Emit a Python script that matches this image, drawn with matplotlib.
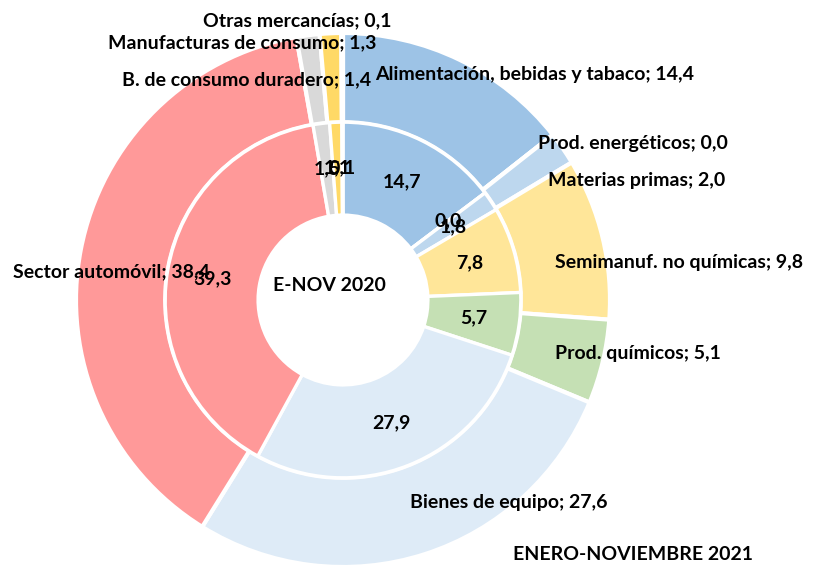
import matplotlib
matplotlib.use("Agg")
import matplotlib.pyplot as plt
import numpy as np

plt.rcParams['font.family'] = ['Lato', 'DejaVu Sans']

categorias = ["Alimentación, bebidas y tabaco", "Prod. energéticos", "Materias primas",
              "Semimanuf. no químicas", "Prod. químicos", "Bienes de equipo",
              "Sector automóvil", "B. de consumo duradero", "Manufacturas de consumo",
              "Otras mercancías"]
valores_2021 = [14.4, 0.0, 2.0, 9.8, 5.1, 27.6, 38.4, 1.4, 1.3, 0.1]
valores_2020 = [14.7, 0.0, 1.8, 7.8, 5.7, 27.9, 39.3, 1.5, 1.1, 0.1]
colores = ["#9DC3E6", "#8FAADC", "#BDD7EE", "#FFE699", "#C5E0B4", "#DEEBF7",
           "#FF9999", "#D9D9D9", "#FFD966", "#F4B183"]

# posiciones de las etiquetas exteriores (coordenadas del eje, alineadas a la izquierda)
pos_etiquetas = [(0.120, 0.843), (0.730, 0.587), (0.768, 0.449), (0.794, 0.139),
                 (0.794, -0.199), (0.251, -0.760), (-1.235, 0.105), (-0.828, 0.824),
                 (-0.880, 0.963), (-0.524, 1.045)]

TAM = 14


def fmt(v):
    return f"{v:.1f}".replace(".", ",")


fig = plt.figure(figsize=(8.13, 5.65), dpi=100)
ax = fig.add_axes([(343 - 267) / 813, (565 - 300 - 267) / 565, 534 / 813, 534 / 565])

# anillo exterior: enero-noviembre 2021
ax.pie(valores_2021, colors=colores, radius=1.0, startangle=90, counterclock=False,
       wedgeprops=dict(width=0.334, edgecolor="white", linewidth=3.0))

# anillo interior: E-NOV 2020
ax.pie(valores_2020, colors=colores, radius=0.666, startangle=90, counterclock=False,
       wedgeprops=dict(width=0.348, edgecolor="white", linewidth=2.4))

total = sum(valores_2020)
acum = 0
for v in valores_2020:
    ang = np.deg2rad(90 - 360 * (acum + v / 2) / total)
    acum += v
    ax.text(0.495 * np.cos(ang), 0.495 * np.sin(ang), fmt(v), ha="center", va="center",
            fontsize=TAM, fontweight="bold", color="black")

for cat, v, (x, y) in zip(categorias, valores_2021, pos_etiquetas):
    ax.text(x, y, f"{cat}; {fmt(v)}", ha="left", va="center", fontsize=TAM,
            fontweight="bold", color="black", clip_on=False)

ax.text(-0.049, 0.056, "E-NOV 2020", ha="center", va="center", fontsize=TAM,
        fontweight="bold")
fig.text(513 / 813, 1 - 555 / 565, "ENERO-NOVIEMBRE 2021", ha="left", va="center",
         fontsize=TAM, fontweight="bold")

ax.set_xlim(-1, 1)
ax.set_ylim(-1, 1)
ax.set_aspect("equal")
ax.axis("off")

fig.savefig("out.png", dpi=100)
